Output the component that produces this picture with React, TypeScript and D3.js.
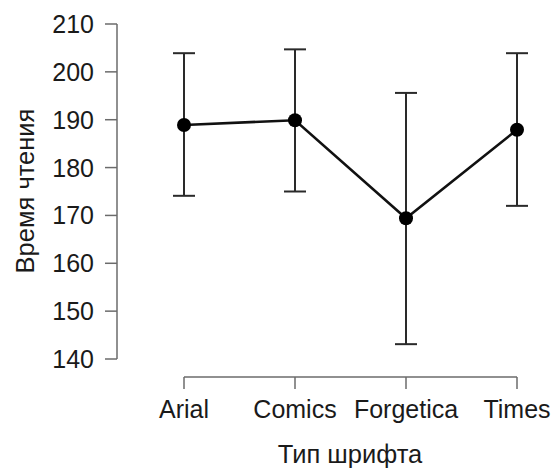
import { useEffect, useRef } from 'react';
import * as d3 from 'd3';

const fonts = ['Arial', 'Comics', 'Forgetica', 'Times'];
const means = [188.9, 189.9, 169.4, 187.9];
const upper = [203.9, 204.7, 195.6, 203.9];
const lower = [174.1, 175.0, 143.1, 172.0];
const yTicks = [140, 150, 160, 170, 180, 190, 200, 210];

const WIDTH = 552;
const HEIGHT = 468;

export default function App() {
  const svgRef = useRef<SVGSVGElement>(null);

  useEffect(() => {
    if (!svgRef.current) return;
    const svg = d3.select(svgRef.current);
    svg.selectAll('*').remove();

    const fontFamily = '"Liberation Sans", Arial, sans-serif';
    const axisColor = '#6b6b6b';
    const textColor = '#1a1a1a';

    const x = d3.scalePoint<string>().domain(fonts).range([184, 517]);
    const y = d3.scaleLinear().domain([140, 210]).range([359, 24]);

    const data = fonts.map((f, i) => ({ font: f, mean: means[i], hi: upper[i], lo: lower[i] }));

    // y axis
    const yAxis = svg.append('g').attr('transform', 'translate(117,0)');
    yAxis
      .append('line')
      .attr('y1', y(210))
      .attr('y2', y(140))
      .attr('stroke', axisColor)
      .attr('stroke-width', 1.5);
    yTicks.forEach((t) => {
      yAxis
        .append('line')
        .attr('x1', -12)
        .attr('x2', 0)
        .attr('y1', y(t))
        .attr('y2', y(t))
        .attr('stroke', axisColor)
        .attr('stroke-width', 1.5);
      yAxis
        .append('text')
        .attr('x', -23)
        .attr('y', y(t))
        .attr('dy', '0.36em')
        .attr('text-anchor', 'end')
        .attr('font-family', fontFamily)
        .attr('font-size', 25)
        .attr('fill', textColor)
        .text(t);
    });

    // x axis
    const xAxis = svg.append('g').attr('transform', 'translate(0,377)');
    xAxis
      .append('line')
      .attr('x1', x(fonts[0])!)
      .attr('x2', x(fonts[fonts.length - 1])!)
      .attr('stroke', axisColor)
      .attr('stroke-width', 1.5);
    fonts.forEach((f) => {
      xAxis
        .append('line')
        .attr('x1', x(f)!)
        .attr('x2', x(f)!)
        .attr('y1', 0)
        .attr('y2', 12)
        .attr('stroke', axisColor)
        .attr('stroke-width', 1.5);
      xAxis
        .append('text')
        .attr('x', x(f)!)
        .attr('y', 41)
        .attr('text-anchor', 'middle')
        .attr('font-family', fontFamily)
        .attr('font-size', 25)
        .attr('fill', textColor)
        .text(f);
    });

    // axis titles
    svg
      .append('text')
      .attr('x', 350)
      .attr('y', 463)
      .attr('text-anchor', 'middle')
      .attr('font-family', fontFamily)
      .attr('font-size', 25.5)
      .attr('fill', textColor)
      .text('Тип шрифта');

    svg
      .append('text')
      .attr('transform', 'translate(34,191) rotate(-90)')
      .attr('text-anchor', 'middle')
      .attr('font-family', fontFamily)
      .attr('font-size', 25.5)
      .attr('fill', textColor)
      .text('Время чтения');

    // error bars
    const bars = svg.append('g').attr('stroke', '#2a2a2a').attr('stroke-width', 2);
    data.forEach((d) => {
      const cx = x(d.font)!;
      bars.append('line').attr('x1', cx).attr('x2', cx).attr('y1', y(d.hi)).attr('y2', y(d.lo));
      bars.append('line').attr('x1', cx - 11).attr('x2', cx + 11).attr('y1', y(d.hi)).attr('y2', y(d.hi));
      bars.append('line').attr('x1', cx - 11).attr('x2', cx + 11).attr('y1', y(d.lo)).attr('y2', y(d.lo));
    });

    // mean line
    const line = d3
      .line<{ font: string; mean: number }>()
      .x((d) => x(d.font)!)
      .y((d) => y(d.mean));

    svg
      .append('path')
      .datum(data)
      .attr('fill', 'none')
      .attr('stroke', '#111')
      .attr('stroke-width', 2.5)
      .attr('d', line);

    svg
      .append('g')
      .selectAll('circle')
      .data(data)
      .join('circle')
      .attr('cx', (d) => x(d.font)!)
      .attr('cy', (d) => y(d.mean))
      .attr('r', 7)
      .attr('fill', '#000');
  }, []);

  return (
    <svg
      ref={svgRef}
      width={WIDTH}
      height={HEIGHT}
      style={{ position: 'fixed', left: 0, top: 0, background: '#fff' }}
    />
  );
}
